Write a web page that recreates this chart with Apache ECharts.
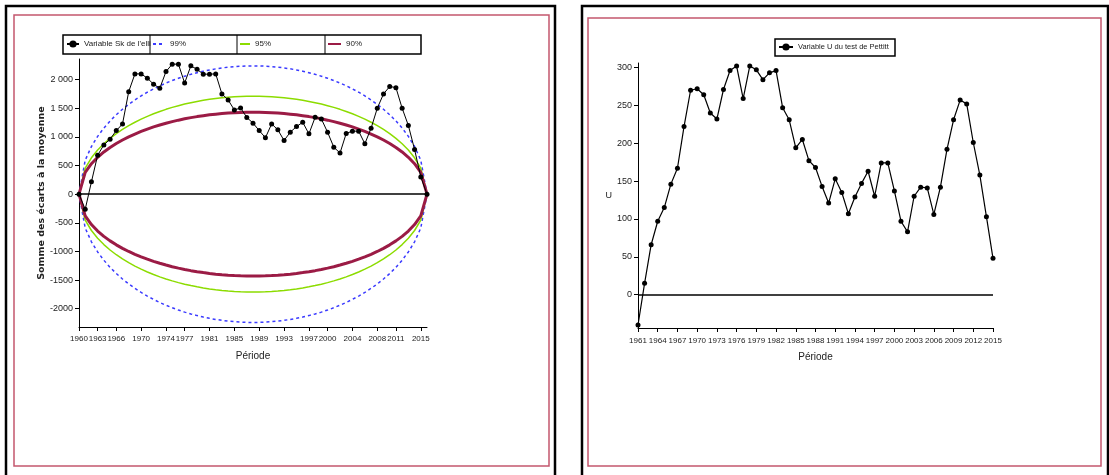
<!DOCTYPE html>
<html><head><meta charset="utf-8">
<script src="https://cdn.jsdelivr.net/npm/echarts@6/dist/echarts.min.js"></script>
<style>html,body{margin:0;padding:0;background:#fff}#c{width:1109px;height:475px}</style>
</head><body><div id="c"></div>
<script>
// ---------- Left chart: Buishand ellipse ----------
const leftYears = [1960,1961,1962,1963,1964,1965,1966,1967,1968,1969,1970,1971,1972,1973,1974,1975,1976,1977,1978,1979,1980,1981,1982,1983,1984,1985,1986,1987,1988,1989,1990,1991,1992,1993,1994,1995,1996,1997,1998,1999,2000,2001,2002,2003,2004,2005,2006,2007,2008,2009,2010,2011,2012,2013,2014,2015,2016];
const skValues = [0,-265,215,680,860,960,1110,1225,1790,2100,2100,2025,1920,1850,2140,2270,2270,1940,2240,2180,2095,2095,2100,1750,1645,1470,1505,1340,1240,1110,985,1227,1123,937,1082,1180,1255,1053,1342,1314,1082,821,717,1060,1100,1100,880,1150,1500,1750,1880,1860,1500,1200,780,300,0];
const ellipse99 = [0,593,832,1009,1154,1278,1386,1482,1568,1645,1716,1780,1838,1892,1940,1984,2024,2060,2092,2121,2147,2169,2188,2204,2217,2227,2234,2239,2240,2239,2234,2227,2217,2204,2188,2169,2147,2121,2092,2060,2024,1984,1940,1892,1838,1780,1716,1645,1568,1482,1386,1278,1154,1009,832,593,0];
const ellipse95 = [0,453,635,770,881,975,1058,1131,1197,1256,1310,1359,1403,1444,1481,1515,1545,1573,1597,1619,1639,1656,1670,1683,1692,1700,1706,1709,1710,1709,1706,1700,1692,1683,1670,1656,1639,1619,1597,1573,1545,1515,1481,1444,1403,1359,1310,1256,1197,1131,1058,975,881,770,635,453,0];
const ellipse90 = [0,379,531,644,737,816,885,946,1001,1050,1095,1136,1174,1207,1238,1267,1292,1315,1336,1354,1370,1385,1397,1407,1415,1422,1426,1429,1430,1429,1426,1422,1415,1407,1397,1385,1370,1354,1336,1315,1292,1267,1238,1207,1174,1136,1095,1050,1001,946,885,816,737,644,531,379,0];
const leftXTicks = [1960,1963,1966,1970,1974,1977,1981,1985,1989,1993,1997,2000,2004,2008,2011,2015];
const leftYTicks = [-2000,-1500,-1000,-500,0,500,1000,1500,2000];
const leftYTickLabels = ['-2000','-1500','-1000','-500','0','500','1 000','1 500','2 000'];
const leftLegend = ["Variable Sk de l'ellipse", '99%', '95%', '90%'];

// ---------- Right chart: Pettitt U ----------
const rightYears = [1961,1962,1963,1964,1965,1966,1967,1968,1969,1970,1971,1972,1973,1974,1975,1976,1977,1978,1979,1980,1981,1982,1983,1984,1985,1986,1987,1988,1989,1990,1991,1992,1993,1994,1995,1996,1997,1998,1999,2000,2001,2002,2003,2004,2005,2006,2007,2008,2009,2010,2011,2012,2013,2014,2015];
const uValues = [-40,15,66,97,115,146,167,222,270,272,264,240,232,271,296,302,259,302,297,284,293,296,247,231,194,205,177,168,143,121,153,135,107,129,147,163,130,174,174,137,97,83,130,142,141,106,142,192,231,257,252,201,158,103,48];
const rightXTicks = [1961,1964,1967,1970,1973,1976,1979,1982,1985,1988,1991,1994,1997,2000,2003,2006,2009,2012,2015];
const rightYTicks = [0,50,100,150,200,250,300];
const rightLegend = ['Variable U du test de Pettitt'];

const FONT = "'Liberation Sans Narrow','Arial Narrow','Liberation Sans',Arial,sans-serif";
const TXT = '#222';

function pairs(xs, ys) { return xs.map((x, i) => [x, ys[i]]); }
function neg(arr) { return arr.map(v => -v); }

const zeroLine = {
  silent: true, symbol: ['none', 'none'], label: { show: false },
  lineStyle: { color: '#000', width: 1.5, type: 'solid' },
  emphasis: { disabled: true },
  data: [{ yAxis: 0 }]
};

const blue = { color: '#3a3aff', width: 1.5, type: [3, 3] };
const green = { color: '#8cdc00', width: 1.5, type: 'solid' };
const red = { color: '#9b1b45', width: 3, type: 'solid' };

function axisCommon(ticks) {
  return {
    axisLine: { show: true, onZero: false, lineStyle: { color: '#000', width: 1 } },
    axisTick: { show: true, customValues: ticks, length: 4, lineStyle: { color: '#000' } },
    splitLine: { show: false }
  };
}
function xLabel(ticks, margin) {
  return { customValues: ticks, fontSize: 8, fontFamily: FONT, color: TXT, margin: margin,
    showMinLabel: true, showMaxLabel: true, hideOverlap: false, formatter: v => String(v) };
}

const legText = { fontSize: 8, fontFamily: FONT, color: TXT };
function oneLegend(left, top, name, iw, extra) {
  return Object.assign({ left: left, top: top, itemWidth: iw, itemHeight: 9, itemGap: 0, padding: 0,
    selectedMode: false, textStyle: legText, data: [name] }, extra || {});
}

const chart = echarts.init(document.getElementById('c'), null, { renderer: 'canvas' });
chart.setOption({
  animation: false,
  backgroundColor: '#fff',
  grid: [
    { left: 79, top: 59, width: 348, height: 268 },
    { left: 638, top: 63, width: 355, height: 265 }
  ],
  xAxis: [
    Object.assign(axisCommon(leftXTicks), {
      type: 'value', gridIndex: 0, min: 1960, max: 2016,
      axisLabel: xLabel(leftXTicks, 8),
      name: 'Période', nameLocation: 'middle', nameGap: 24,
      nameTextStyle: { fontSize: 10, fontFamily: FONT, color: TXT }
    }),
    Object.assign(axisCommon(rightXTicks), {
      type: 'value', gridIndex: 1, min: 1961, max: 2015,
      axisLabel: xLabel(rightXTicks, 9),
      name: 'Période', nameLocation: 'middle', nameGap: 24,
      nameTextStyle: { fontSize: 10, fontFamily: FONT, color: TXT }
    })
  ],
  yAxis: [
    Object.assign(axisCommon(leftYTicks), {
      type: 'value', gridIndex: 0, min: -2320, max: 2360,
      axisLabel: { customValues: leftYTicks, fontSize: 9, fontFamily: FONT, color: TXT, margin: 6,
        showMinLabel: true, showMaxLabel: true,
        formatter: v => leftYTickLabels[leftYTicks.indexOf(v)] },
      name: 'Somme des écarts à la moyenne', nameLocation: 'middle', nameGap: 30,
      nameTextStyle: { fontSize: 9.5, fontWeight: 'bold', fontFamily: "'DejaVu Sans',sans-serif", color: TXT }
    }),
    Object.assign(axisCommon(rightYTicks), {
      type: 'value', gridIndex: 1, min: -44, max: 306,
      axisLabel: { customValues: rightYTicks, fontSize: 9, fontFamily: FONT, color: TXT, margin: 6,
        showMinLabel: true, showMaxLabel: true, formatter: v => String(v) },
      name: 'U', nameLocation: 'middle', nameGap: 19, nameRotate: 0,
      nameTextStyle: { fontSize: 9, fontFamily: FONT, color: TXT }
    })
  ],
  legend: [
    Object.assign(oneLegend(66, 40, leftLegend[0], 12), {
      textStyle: Object.assign({}, legText, { width: 69, overflow: 'truncate', ellipsis: '' }) }),
    oneLegend(152, 40, { name: leftLegend[1], itemStyle: { opacity: 0 } }, 12),
    oneLegend(239, 40, { name: leftLegend[2], itemStyle: { opacity: 0 } }, 10),
    oneLegend(327, 40, { name: leftLegend[3], itemStyle: { opacity: 0 } }, 13),
    oneLegend(778, 43, rightLegend[0], 14, { textStyle: Object.assign({}, legText, { fontSize: 7.5 }) })
  ],
  series: [
    { name: '99%', type: 'line', xAxisIndex: 0, yAxisIndex: 0, symbol: 'none', lineStyle: blue, itemStyle: { color: blue.color }, data: pairs(leftYears, ellipse99) },
    { name: '99%', type: 'line', xAxisIndex: 0, yAxisIndex: 0, symbol: 'none', lineStyle: blue, itemStyle: { color: blue.color }, data: pairs(leftYears, neg(ellipse99)) },
    { name: '95%', type: 'line', xAxisIndex: 0, yAxisIndex: 0, symbol: 'none', lineStyle: green, itemStyle: { color: green.color }, data: pairs(leftYears, ellipse95) },
    { name: '95%', type: 'line', xAxisIndex: 0, yAxisIndex: 0, symbol: 'none', lineStyle: green, itemStyle: { color: green.color }, data: pairs(leftYears, neg(ellipse95)) },
    { name: '90%', type: 'line', xAxisIndex: 0, yAxisIndex: 0, symbol: 'none', lineStyle: red, itemStyle: { color: red.color }, data: pairs(leftYears, ellipse90) },
    { name: '90%', type: 'line', xAxisIndex: 0, yAxisIndex: 0, symbol: 'none', lineStyle: red, itemStyle: { color: red.color }, data: pairs(leftYears, neg(ellipse90)) },
    { name: leftLegend[0], type: 'line', xAxisIndex: 0, yAxisIndex: 0, symbol: 'circle', symbolSize: 5,
      lineStyle: { color: '#000', width: 1 }, itemStyle: { color: '#000' },
      data: pairs(leftYears, skValues), markLine: zeroLine },
    { name: rightLegend[0], type: 'line', xAxisIndex: 1, yAxisIndex: 1, symbol: 'circle', symbolSize: 5,
      lineStyle: { color: '#000', width: 1.2 }, itemStyle: { color: '#000' },
      data: pairs(rightYears, uValues), markLine: zeroLine }
  ],
  graphic: [
    { type: 'rect', silent: true, z: -1, shape: { x: 6, y: 6, width: 549, height: 480 }, style: { fill: null, stroke: '#000', lineWidth: 2.5 } },
    { type: 'rect', silent: true, z: -1, shape: { x: 14, y: 15, width: 535, height: 451 }, style: { fill: null, stroke: '#c4576e', lineWidth: 1.5 } },
    { type: 'rect', silent: true, z: -1, shape: { x: 582, y: 6, width: 526, height: 480 }, style: { fill: null, stroke: '#000', lineWidth: 2.5 } },
    { type: 'rect', silent: true, z: -1, shape: { x: 588, y: 18, width: 513, height: 448 }, style: { fill: null, stroke: '#c4576e', lineWidth: 1.5 } },
    { type: 'rect', silent: true, shape: { x: 63, y: 35, width: 358, height: 19 }, style: { fill: null, stroke: '#000', lineWidth: 1.5 } },
    { type: 'line', silent: true, shape: { x1: 150, y1: 35, x2: 150, y2: 54 }, style: { stroke: '#000', lineWidth: 1 } },
    { type: 'line', silent: true, shape: { x1: 237, y1: 35, x2: 237, y2: 54 }, style: { stroke: '#000', lineWidth: 1 } },
    { type: 'line', silent: true, shape: { x1: 325, y1: 35, x2: 325, y2: 54 }, style: { stroke: '#000', lineWidth: 1 } },
    { type: 'rect', silent: true, shape: { x: 775, y: 39, width: 120, height: 17 }, style: { fill: null, stroke: '#000', lineWidth: 1.5 } }
  ]
});
</script></body></html>
